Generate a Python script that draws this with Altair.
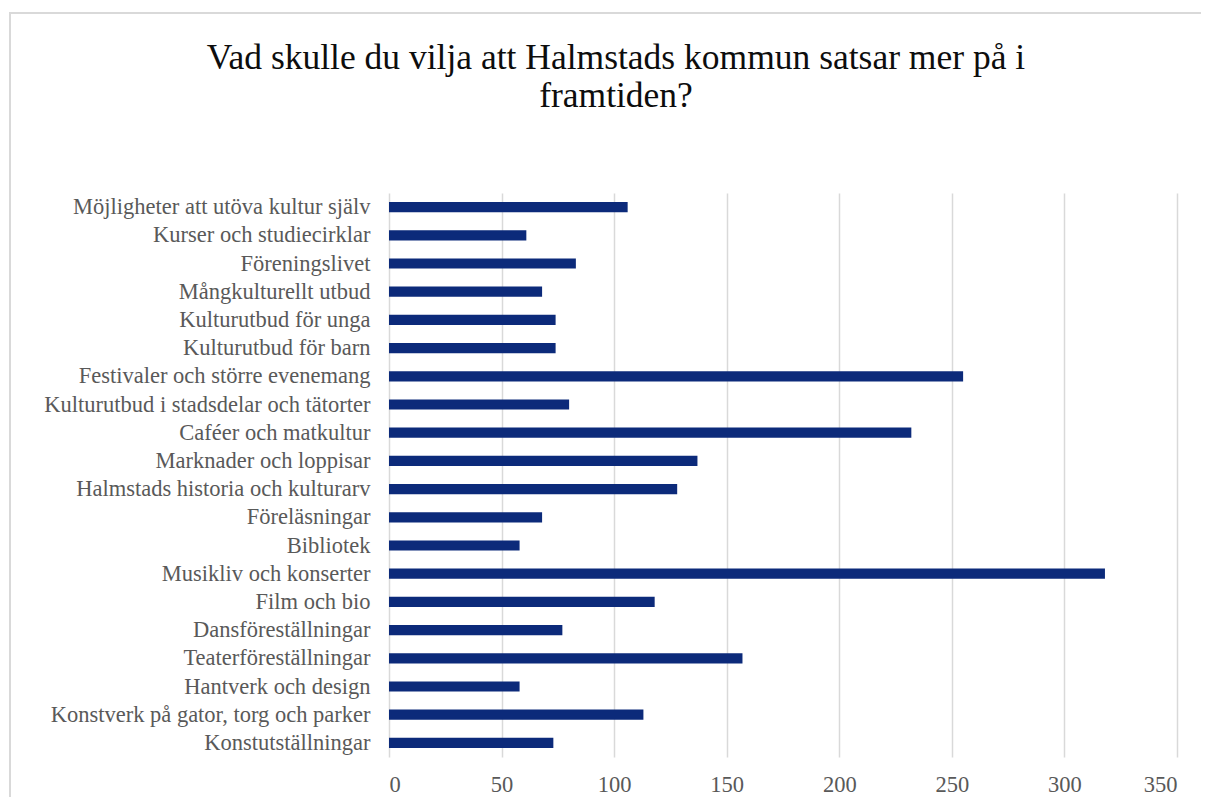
import altair as alt
import pandas as pd

categories = [
    "Möjligheter att utöva kultur själv",
    "Kurser och studiecirklar",
    "Föreningslivet",
    "Mångkulturellt utbud",
    "Kulturutbud för unga",
    "Kulturutbud för barn",
    "Festivaler och större evenemang",
    "Kulturutbud i stadsdelar och tätorter",
    "Caféer och matkultur",
    "Marknader och loppisar",
    "Halmstads historia och kulturarv",
    "Föreläsningar",
    "Bibliotek",
    "Musikliv och konserter",
    "Film och bio",
    "Dansföreställningar",
    "Teaterföreställningar",
    "Hantverk och design",
    "Konstverk på gator, torg och parker",
    "Konstutställningar",
]
values = [106, 61, 83, 68, 74, 74, 255, 80, 232, 137, 128, 68, 58, 318, 118, 77, 157, 58, 113, 73]
x_ticks = [0, 50, 100, 150, 200, 250, 300, 350]
title_lines = ["Vad skulle du vilja att Halmstads kommun satsar mer på i", "framtiden?"]

df = pd.DataFrame({"kategori": categories, "antal": values})

FONT = "Liberation Serif"
GRAY = "#595959"
LABEL_SIZE = 22.5
TITLE_SIZE = 35.5

bars = alt.Chart(df).mark_bar(color="#0c2a7a").encode(
    y=alt.Y(
        "kategori:N",
        sort=categories,
        title=None,
        scale=alt.Scale(paddingInner=0.64, paddingOuter=0.32),
        axis=alt.Axis(
            labelFont=FONT, labelFontSize=LABEL_SIZE, labelColor=GRAY,
            labelPadding=19, ticks=False, domain=False, labelLimit=0,
        ),
    ),
    x=alt.X(
        "antal:Q",
        title=None,
        scale=alt.Scale(domain=[0, 350], nice=False),
        axis=alt.Axis(
            values=x_ticks, labelFont=FONT, labelFontSize=LABEL_SIZE, labelColor=GRAY,
            labelPadding=16, ticks=False, domain=False,
            grid=True, gridColor="#d9d9d9", gridWidth=1.5,
        ),
    ),
)

border = alt.Chart(df).mark_rect(
    fill=None, stroke="#d9d9d9", strokeWidth=1.5
).encode(
    x=alt.value(-379), x2=alt.value(830),
    y=alt.value(-180), y2=alt.value(640),
)

title1 = alt.Chart(pd.DataFrame({"t": [title_lines[0]]})).mark_text(
    font=FONT, fontSize=TITLE_SIZE, color="#0d0d0d", align="center", baseline="alphabetic"
).encode(text="t:N", x=alt.value(227), y=alt.value(-124))

title2 = alt.Chart(pd.DataFrame({"t": [title_lines[1]]})).mark_text(
    font=FONT, fontSize=TITLE_SIZE, color="#0d0d0d", align="center", baseline="alphabetic"
).encode(text="t:N", x=alt.value(227), y=alt.value(-86))

chart = alt.layer(border, bars, title1, title2).properties(
    width=788,
    height=564,
    padding={"left": 381, "top": 185, "right": 24, "bottom": 40},
    autosize=alt.AutoSizeParams(type="none"),
).configure_view(stroke=None)

chart.save("out.html", embed_options={"renderer": "svg", "actions": False})
